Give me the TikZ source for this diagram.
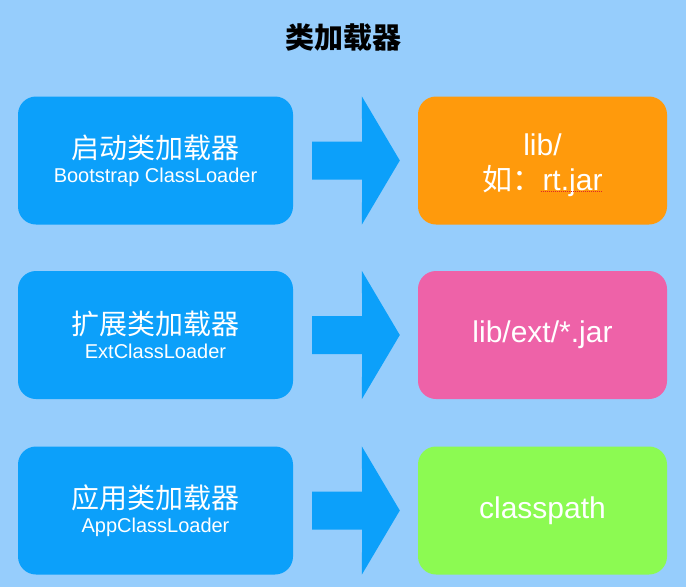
\documentclass[tikz,border=0pt]{standalone}
\usepackage{fontspec}
\setmainfont{Liberation Sans}
\newfontfamily\cjk{Noto Sans CJK SC}
\usetikzlibrary{calc}
\definecolor{bg}{RGB}{150,205,252}
\definecolor{loaderblue}{RGB}{12,160,250}
\definecolor{orangebox}{RGB}{255,154,12}
\definecolor{pinkbox}{RGB}{238,98,168}
\definecolor{greenbox}{RGB}{140,250,82}
\definecolor{spellred}{RGB}{225,40,40}
\tikzset{
  loader/.style={fill=loaderblue, rounded corners=18pt, minimum width=275pt, minimum height=128pt, inner sep=0pt, text=white, align=center},
  target/.style={rounded corners=18pt, minimum width=249pt, minimum height=128pt, inner sep=0pt, text=white, align=center, font=\fontsize{30}{35}\selectfont},
}
\newcommand\cn[1]{{\cjk\fontsize{28}{30}\selectfont #1}}
\newcommand\en[1]{{\fontsize{20}{22}\selectfont #1}}
\newcommand\blkarrow[2]{\fill[loaderblue] ($(#1.east)+(19,-19)$) -- ($(#1.east)+(69,-19)$) -- ($(#2.north west)+(-56,0)$) -- ($(#2.west)+(-18,0)$) -- ($(#2.south west)+(-56,0)$) -- ($(#1.east)+(69,19)$) -- ($(#1.east)+(19,19)$) -- cycle;}
\begin{document}
\begin{tikzpicture}[x=1pt,y=-1pt]
\fill[bg] (0,0) rectangle (686,587);
\useasboundingbox (0,0) rectangle (686,587);
\node (title) at (343,38) {\cjk\bfseries\fontsize{29}{32}\selectfont 类加载器};
\node[loader] (L1) at (155.5,160.5) {\cn{启动类加载器}\\[6pt]\en{Bootstrap ClassLoader}};
\node[loader] (L2) at (155.5,335) {\cn{扩展类加载器}\\[6pt]\en{ExtClassLoader}};
\node[loader] (L3) at (155.5,510.5) {\cn{应用类加载器}\\[6pt]\en{AppClassLoader}};
\node[target, fill=orangebox] (R1) at (542.5,160.5) {\rule{0pt}{32pt}lib/\\{\cjk 如：}rt.jar};
\node[target, fill=pinkbox] (R2) at (542.5,335) {lib/ext/*.jar};
\node[target, fill=greenbox] (R3) at (542.5,510.5) {classpath};
\blkarrow{L1}{R1}
\blkarrow{L2}{R2}
\blkarrow{L3}{R3}
\coordinate (u1) at ($(R1.center)+(-2,31)$);
\coordinate (u2) at ($(R1.center)+(60,31)$);
\draw[spellred, densely dotted, line width=1pt] (u1) -- (u2);
\end{tikzpicture}
\end{document}
